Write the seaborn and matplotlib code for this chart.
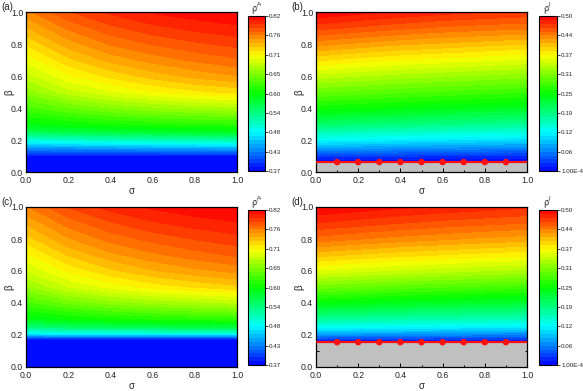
import numpy as np
import seaborn as sns
import matplotlib.pyplot as plt
from matplotlib.colors import LinearSegmentedColormap
from matplotlib.ticker import MultipleLocator

# eixos comuns
sigma = [0.0, 0.2, 0.4, 0.6, 0.8, 1.0]

# (a) rho^A
beta_a = [0.0, 0.1, 0.15, 0.2, 0.25, 0.3, 0.4, 0.5, 0.6, 0.7, 0.8, 0.9, 1.0]
rho_a = [
    [0.370, 0.370, 0.370, 0.370, 0.370, 0.370],
    [0.380, 0.380, 0.380, 0.380, 0.380, 0.380],
    [0.435, 0.437, 0.440, 0.443, 0.445, 0.447],
    [0.495, 0.503, 0.508, 0.512, 0.515, 0.517],
    [0.555, 0.563, 0.568, 0.573, 0.577, 0.580],
    [0.590, 0.598, 0.604, 0.609, 0.612, 0.615],
    [0.625, 0.640, 0.652, 0.660, 0.666, 0.670],
    [0.655, 0.680, 0.695, 0.707, 0.716, 0.722],
    [0.680, 0.705, 0.722, 0.735, 0.745, 0.752],
    [0.700, 0.727, 0.745, 0.757, 0.766, 0.773],
    [0.720, 0.747, 0.765, 0.776, 0.784, 0.790],
    [0.740, 0.766, 0.783, 0.794, 0.801, 0.806],
    [0.760, 0.785, 0.800, 0.810, 0.816, 0.820],
]

# (c) rho^A
beta_c = [0.0, 0.16, 0.18, 0.21, 0.25, 0.3, 0.4, 0.5, 0.6, 0.7, 0.8, 0.9, 1.0]
rho_c = [
    [0.370, 0.370, 0.370, 0.370, 0.370, 0.370],
    [0.370, 0.370, 0.370, 0.370, 0.370, 0.370],
    [0.400, 0.400, 0.400, 0.400, 0.400, 0.400],
    [0.480, 0.485, 0.490, 0.490, 0.490, 0.490],
    [0.540, 0.550, 0.555, 0.560, 0.563, 0.566],
    [0.585, 0.595, 0.602, 0.607, 0.611, 0.614],
    [0.625, 0.643, 0.655, 0.664, 0.670, 0.675],
    [0.660, 0.685, 0.700, 0.712, 0.720, 0.727],
    [0.685, 0.710, 0.727, 0.740, 0.749, 0.756],
    [0.705, 0.731, 0.749, 0.761, 0.770, 0.777],
    [0.725, 0.751, 0.768, 0.779, 0.787, 0.793],
    [0.743, 0.769, 0.785, 0.796, 0.803, 0.808],
    [0.762, 0.787, 0.802, 0.811, 0.817, 0.820],
]

# (b) rho^I, limiar beta_c = 0.062
limiar_b = 0.062
beta_b = [0.062, 0.1, 0.15, 0.2, 0.3, 0.4, 0.5, 0.6, 0.7, 0.8, 0.9, 1.0]
rho_b = [
    [0.0001, 0.0001, 0.0001, 0.0001, 0.0001, 0.0001],
    [0.030, 0.028, 0.026, 0.024, 0.022, 0.020],
    [0.080, 0.077, 0.074, 0.071, 0.068, 0.065],
    [0.125, 0.121, 0.117, 0.113, 0.110, 0.107],
    [0.200, 0.195, 0.190, 0.186, 0.182, 0.178],
    [0.255, 0.250, 0.245, 0.240, 0.236, 0.232],
    [0.300, 0.295, 0.290, 0.285, 0.280, 0.276],
    [0.345, 0.338, 0.332, 0.327, 0.322, 0.318],
    [0.390, 0.382, 0.375, 0.370, 0.365, 0.360],
    [0.430, 0.422, 0.415, 0.410, 0.405, 0.400],
    [0.467, 0.460, 0.453, 0.447, 0.443, 0.440],
    [0.500, 0.492, 0.486, 0.480, 0.476, 0.472],
]

# (d) rho^I, limiar beta_c = 0.155
limiar_d = 0.155
beta_d = [0.155, 0.2, 0.25, 0.3, 0.4, 0.5, 0.6, 0.7, 0.8, 0.9, 1.0]
rho_d = [
    [0.0001, 0.0001, 0.0001, 0.0001, 0.0001, 0.0001],
    [0.070, 0.068, 0.066, 0.064, 0.062, 0.060],
    [0.130, 0.127, 0.124, 0.121, 0.118, 0.115],
    [0.175, 0.171, 0.167, 0.164, 0.161, 0.158],
    [0.245, 0.240, 0.235, 0.231, 0.227, 0.224],
    [0.305, 0.299, 0.293, 0.288, 0.284, 0.280],
    [0.360, 0.353, 0.347, 0.342, 0.337, 0.333],
    [0.405, 0.398, 0.392, 0.387, 0.382, 0.378],
    [0.445, 0.438, 0.432, 0.427, 0.422, 0.418],
    [0.475, 0.469, 0.463, 0.458, 0.454, 0.450],
    [0.500, 0.495, 0.490, 0.485, 0.481, 0.477],
]

# pontos vermelhos na linha do limiar
sigma_pts = [0.1, 0.2, 0.3, 0.4, 0.5, 0.6, 0.7, 0.8, 0.9]

ticks_A = ['0.37', '0.43', '0.48', '0.54', '0.60', '0.65', '0.71', '0.76', '0.82']
ticks_I = ['1.00E-4', '0.06', '0.12', '0.19', '0.25', '0.31', '0.37', '0.44', '0.50']

sns.set_theme(style='ticks')
plt.rcParams['font.family'] = ['Liberation Sans', 'DejaVu Sans']

cmap = LinearSegmentedColormap.from_list(
    'arco', ['#0000ff', '#00ffff', '#00ff00', '#ffff00', '#ff0000'])

fig = plt.figure(figsize=(5.83, 3.91), dpi=100)

W, H = 583, 391
paineis = [
    # letra, beta, rho, vmin, vmax, ticks, label, limiar, ax px, cbar px
    ('(a)', beta_a, rho_a, 0.37, 0.82, ticks_A, r'$\rho^A$', None, (26, 12, 237, 172), (248, 16, 265, 171)),
    ('(b)', beta_b, rho_b, 0.0001, 0.50, ticks_I, r'$\rho^I$', limiar_b, (316, 12, 527, 172), (539, 16, 557, 171)),
    ('(c)', beta_c, rho_c, 0.37, 0.82, ticks_A, r'$\rho^A$', None, (26, 207, 237, 367), (248, 210, 265, 365)),
    ('(d)', beta_d, rho_d, 0.0001, 0.50, ticks_I, r'$\rho^I$', limiar_d, (316, 207, 527, 367), (539, 210, 557, 365)),
]

for letra, beta, rho, vmin, vmax, tks, lab, lim, apx, cpx in paineis:
    ax = fig.add_axes([apx[0] / W, 1 - apx[3] / H, (apx[2] - apx[0]) / W, (apx[3] - apx[1]) / H])
    cax = fig.add_axes([cpx[0] / W, 1 - cpx[3] / H, (cpx[2] - cpx[0]) / W, (cpx[3] - cpx[1]) / H])

    ax.set_facecolor('#c0c0c0')
    levels = np.linspace(vmin, vmax, 41)
    cs = ax.contourf(sigma, beta, np.array(rho), levels=levels, cmap=cmap,
                     vmin=vmin, vmax=vmax, antialiased=False)

    if lim is not None:
        ax.axhline(lim, color='#ff1010', lw=1.6, zorder=3)
        sns.scatterplot(x=sigma_pts, y=[lim] * len(sigma_pts), ax=ax, color='#ff1010',
                        s=22, edgecolor='none', zorder=4, clip_on=False)

    ax.set_xlim(0, 1)
    ax.set_ylim(0, 1)
    ax.xaxis.set_major_locator(MultipleLocator(0.2))
    ax.yaxis.set_major_locator(MultipleLocator(0.2))
    ax.xaxis.set_minor_locator(MultipleLocator(0.1))
    ax.yaxis.set_minor_locator(MultipleLocator(0.1))
    ax.tick_params(which='both', direction='in', top=True, right=True,
                   labelsize=6.3, width=0.7, color='black')
    ax.tick_params(axis='x', pad=3)
    ax.tick_params(axis='y', pad=2)
    ax.tick_params(which='major', length=3)
    ax.tick_params(which='minor', length=1.8)
    for sp in ax.spines.values():
        sp.set_linewidth(0.9)
        sp.set_color('black')
    ax.set_xlabel('σ', fontsize=7)
    ax.set_ylabel('β', fontsize=7)
    ax.xaxis.set_label_coords(0.5, -0.085)
    ax.yaxis.set_label_coords(-0.055, 0.5)

    cb = fig.colorbar(cs, cax=cax, ticks=np.linspace(vmin, vmax, 9))
    cb.ax.set_yticklabels(tks)
    cb.ax.tick_params(labelsize=4.5, length=2, width=0.6, pad=1)
    cb.outline.set_linewidth(0.8)
    cb.outline.set_edgecolor('black')

    fig.text((cpx[0] + cpx[2]) / 2 / W, 1 - 8.5 / H - (cpx[1] - 16) / H, lab,
             fontsize=6.5, ha='center', va='center', rotation=15)
    fig.text((apx[0] - 25) / W, 1 - (apx[1] - 10) / H, letra, fontsize=7,
             ha='left', va='top')

fig.savefig('out.png', dpi=100)
